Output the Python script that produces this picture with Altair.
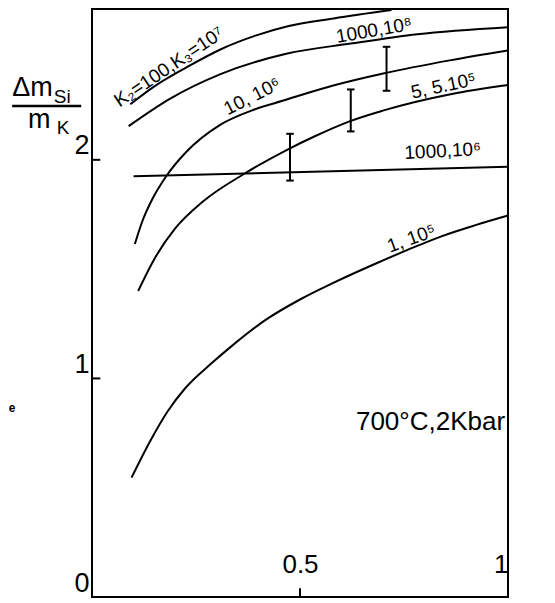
import altair as alt
import pandas as pd

FONT = "Liberation Sans"
X_DOMAIN = [0, 1]
Y_DOMAIN = [0, 2.69]

# curve "K2=100, K3=10^7"
c1_x = [0.092, 0.149, 0.229, 0.310, 0.393, 0.473, 0.581, 0.720]
c1_y = [2.254, 2.335, 2.425, 2.506, 2.568, 2.612, 2.647, 2.685]
# curve "1000, 10^8"
c2_x = [0.088, 0.188, 0.309, 0.467, 0.622, 0.782, 1.0]
c2_y = [2.154, 2.280, 2.392, 2.485, 2.532, 2.575, 2.607]
# curve "10, 10^6"
c3_x = [0.103, 0.121, 0.146, 0.178, 0.227, 0.307, 0.390, 0.458, 0.580, 0.700, 0.860, 1.0]
c3_y = [1.615, 1.719, 1.824, 1.924, 2.037, 2.159, 2.230, 2.270, 2.340, 2.395, 2.455, 2.500]
# curve "5, 5.10^5"
c4_x = [0.111, 0.151, 0.200, 0.266, 0.364, 0.469, 0.537, 0.619, 0.699, 0.862, 1.0]
c4_y = [1.400, 1.550, 1.686, 1.808, 1.934, 2.046, 2.109, 2.176, 2.225, 2.300, 2.342]
# line "1000, 10^6"
c5_x = [0.100, 1.0]
c5_y = [1.925, 1.968]
# curve "1, 10^5"
c6_x = [0.095, 0.140, 0.182, 0.224, 0.288, 0.337, 0.420, 0.500, 0.580, 0.677, 0.760, 0.840, 0.920, 1.0]
c6_y = [0.546, 0.714, 0.850, 0.955, 1.070, 1.150, 1.271, 1.361, 1.437, 1.521, 1.589, 1.650, 1.700, 1.745]

curve_names = ["k100_1e7", "k1000_1e8", "k10_1e6", "k5_5e5", "k1000_1e6", "k1_1e5"]
curve_xs = [c1_x, c2_x, c3_x, c4_x, c5_x, c6_x]
curve_ys = [c1_y, c2_y, c3_y, c4_y, c5_y, c6_y]

# error bars
err_x = [0.476, 0.622, 0.708]
err_lo = [1.905, 2.130, 2.316]
err_hi = [2.119, 2.322, 2.517]

# curve labels
lab_text = ["K₂=100,K₃=10⁷", "1000,10⁸", "10, 10⁶", "5, 5.10⁵", "1000,10⁶", "1, 10⁵"]
lab_x = [0.185, 0.678, 0.385, 0.845, 0.843, 0.768]
lab_y = [2.425, 2.592, 2.290, 2.338, 2.040, 1.640]
lab_angle = [326, 350, 333, 348, 357, 340]

# axis ticks
xtick_vals = [0.5, 1]
ytick_vals = [0, 1, 2]
ytk_v = [1.0, 2.0]
xtk_v = [0.5]

rows = []
for name, xs, ys in zip(curve_names, curve_xs, curve_ys):
    for i, (xv, yv) in enumerate(zip(xs, ys)):
        rows.append({"curve": name, "x": xv, "y": yv, "order": i})
curves_df = pd.DataFrame(rows)

xs_ = alt.Scale(domain=X_DOMAIN, nice=False, zero=False)
ys_ = alt.Scale(domain=Y_DOMAIN, nice=False, zero=False)

x_axis = alt.Axis(values=xtick_vals, format="~g", title=None, domain=False, ticks=False,
                  grid=False, labelPadding=-20, labelBaseline="bottom", labelFlush=True,
                  labelFontSize=26, labelFont=FONT, labelColor="black")
y_axis = alt.Axis(values=ytick_vals, format="d", title=None, domain=False, ticks=False,
                  grid=False, labelPadding=3, labelBaseline="bottom", labelFlush=False,
                  labelFontSize=27, labelFont=FONT, labelColor="black")

lines = alt.Chart(curves_df).mark_line(color="black", strokeWidth=2, interpolate="monotone").encode(
    x=alt.X("x:Q", scale=xs_, axis=x_axis),
    y=alt.Y("y:Q", scale=ys_, axis=y_axis),
    detail="curve:N",
    order="order:Q",
)

ytk_df = pd.DataFrame({"v": ytk_v})
yticks = alt.Chart(ytk_df).mark_rule(color="black", strokeWidth=2).encode(
    x=alt.datum(0.0, scale=xs_), x2=alt.datum(0.02),
    y=alt.Y("v:Q", scale=ys_))
xtk_df = pd.DataFrame({"v": xtk_v})
xticks = alt.Chart(xtk_df).mark_rule(color="black", strokeWidth=2).encode(
    x=alt.X("v:Q", scale=xs_),
    y=alt.datum(0.002, scale=ys_), y2=alt.datum(0.04))

err_df = pd.DataFrame({"x": err_x, "lo": err_lo, "hi": err_hi})
err_v = alt.Chart(err_df).mark_rule(color="black", strokeWidth=2).encode(
    x=alt.X("x:Q", scale=xs_), y=alt.Y("lo:Q", scale=ys_), y2="hi:Q")
err_caps = []
for fld in ["lo", "hi"]:
    err_caps.append(
        alt.Chart(err_df).transform_calculate(xa="datum.x - 0.009", xb="datum.x + 0.009")
        .mark_rule(color="black", strokeWidth=2)
        .encode(x=alt.X("xa:Q", scale=xs_), x2="xb:Q", y=alt.Y(f"{fld}:Q", scale=ys_))
    )

labels = []
for t, lx, ly, ang in zip(lab_text, lab_x, lab_y, lab_angle):
    d = pd.DataFrame({"t": [t], "x": [lx], "y": [ly]})
    labels.append(
        alt.Chart(d).mark_text(font=FONT, fontSize=19, angle=ang, color="black",
                               align="center", baseline="middle")
        .encode(x=alt.X("x:Q", scale=xs_), y=alt.Y("y:Q", scale=ys_), text="t:N")
    )

ann_text = ["700°C,2Kbar", "Δm", "Si", "m", "K", "e"]
ann_x = [0.993, -0.192, -0.092, -0.154, -0.085, -0.200]
ann_y = [0.765, 2.292, 2.262, 2.145, 2.118, 0.848]
ann_size = [26, 27, 19, 27, 19, 12]
ann_align = ["right", "left", "left", "left", "left", "left"]
ann_weight = ["normal", "normal", "normal", "normal", "normal", "bold"]
anns = []
for t, ax_, ay_, sz, al, wt in zip(ann_text, ann_x, ann_y, ann_size, ann_align, ann_weight):
    d = pd.DataFrame({"t": [t], "x": [ax_], "y": [ay_]})
    anns.append(
        alt.Chart(d).mark_text(font=FONT, fontSize=sz, align=al, baseline="alphabetic",
                               color="black", fontWeight=wt)
        .encode(x=alt.X("x:Q", scale=xs_), y=alt.Y("y:Q", scale=ys_), text="t:N")
    )

frac_df = pd.DataFrame({"x0": [-0.192], "x1": [-0.026], "y": [2.246]})
frac = alt.Chart(frac_df).mark_rule(color="black", strokeWidth=2.5).encode(
    x=alt.X("x0:Q", scale=xs_), x2="x1:Q", y=alt.Y("y:Q", scale=ys_))

chart = alt.layer(lines, yticks, xticks, err_v, *err_caps, *labels, *anns, frac).properties(
    width=416, height=588, autosize="none",
    padding={"left": 84, "top": 1, "right": 20, "bottom": 2},
    background="white",
).configure_view(stroke="black", strokeWidth=2)

chart.save("out.html", embed_options={"renderer": "svg", "actions": False})
